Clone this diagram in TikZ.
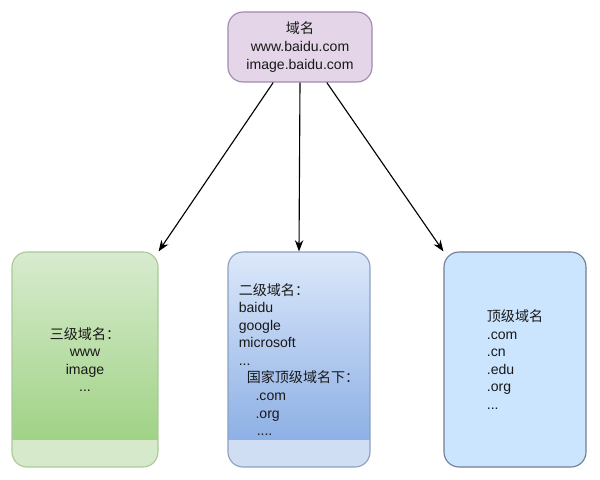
\documentclass[tikz,border=0pt]{standalone}
\usepackage{fontspec}
\setmainfont{Liberation Sans}
\newfontfamily\cjk{Noto Sans CJK SC}
\usetikzlibrary{arrows.meta}

\definecolor{purplefill}{HTML}{E4D6E8}
\definecolor{purpleline}{HTML}{9F8AAE}
\definecolor{greentop}{HTML}{D8EBCF}
\definecolor{greenbot}{HTML}{98CF7B}
\definecolor{greenband}{HTML}{D6EACB}
\definecolor{greenline}{HTML}{A9C99A}
\definecolor{bluetop}{HTML}{DCE8FA}
\definecolor{bluebot}{HTML}{82A8E2}
\definecolor{blueband}{HTML}{D0DEF4}
\definecolor{blueline}{HTML}{8CA0BE}
\definecolor{skyfill}{HTML}{CCE5FF}
\definecolor{skyline}{HTML}{6F7F92}

\begin{document}
\begin{tikzpicture}[
    txt/.style={font=\fontsize{10}{12.5}\selectfont, text=black!90},
    rbox/.style={draw, line width=0.8pt, rounded corners=0.375cm, inner sep=0pt, txt},
    gradbox/.style n args={3}{rbox, path picture={
        \shade[sharp corners, top color=#1, bottom color=#2]
            (path picture bounding box.north west) rectangle ([yshift=0.675cm]path picture bounding box.south east);
        \fill[sharp corners, #3] ([yshift=0.675cm]path picture bounding box.south west) rectangle (path picture bounding box.south east);
    }},
    link/.style={-{Stealth[length=8pt,width=6pt]}, line width=0.8pt}
]
\useasboundingbox (0,0) rectangle (15,12);

% top: domain name
\node[rbox, draw=purpleline, fill=purplefill, minimum width=3.6cm, minimum height=1.75cm, align=center]
    (domain) at (7.5,10.825) {{\cjk 域名}\\www.baidu.com\\image.baidu.com};

% third level
\node[gradbox={greentop}{greenbot}{greenband}, draw=greenline, minimum width=3.65cm, minimum height=5.375cm, align=center]
    (third) at (2.125,3.0125) {{\cjk 三级域名：}\\www\\image\\...};

% second level
\node[gradbox={bluetop}{bluebot}{blueband}, draw=blueline, minimum width=3.55cm, minimum height=5.375cm, align=left]
    (second) at (7.475,3.0125) {{\cjk 二级域名：}\\baidu\\google\\microsoft\\...\\
    \hspace*{0.2cm}{\cjk 国家顶级域名下：}\\\hspace*{0.42cm}.com\\\hspace*{0.42cm}.org\\\hspace*{0.45cm}....};

% top level
\node[rbox, draw=skyline, fill=skyfill, minimum width=3.55cm, minimum height=5.375cm, align=left]
    (toplevel) at (12.875,3.0125) {{\cjk 顶级域名}\\.com\\.cn\\.edu\\.org\\...};

\draw[link] (domain.-127) -- (third.north east);
\draw[link] (domain.south) -- (second.north);
\draw[link] (domain.-53) -- (toplevel.north west);
\end{tikzpicture}
\end{document}
